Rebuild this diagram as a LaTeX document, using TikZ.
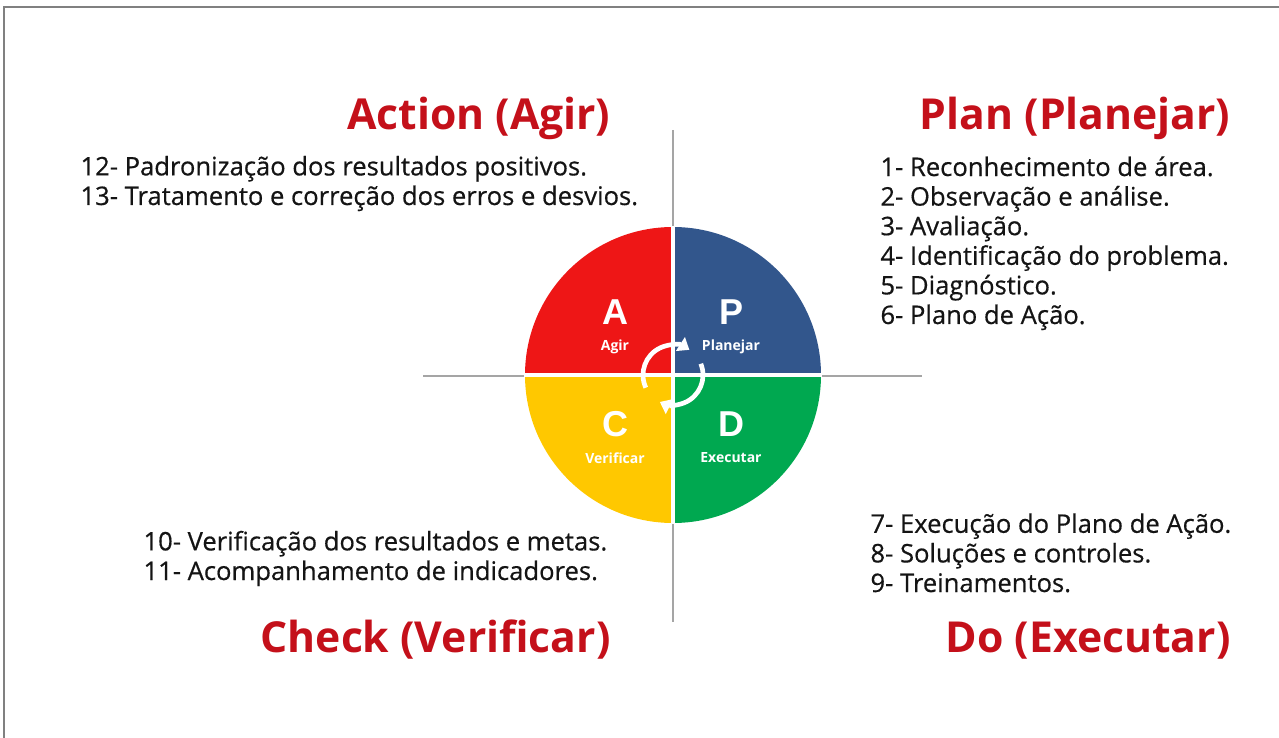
\documentclass[tikz,border=0pt]{standalone}
\usepackage{fontspec}
\setmainfont{Open Sans}
\newfontfamily\bodyfont{Open Sans}[FakeBold=0.5]
\newfontfamily\letterfont{Liberation Sans}
\usetikzlibrary{arrows.meta}

\definecolor{headred}{RGB}{196,16,26}
\definecolor{agirred}{RGB}{238,22,22}
\definecolor{planblue}{RGB}{50,86,140}
\definecolor{checkyellow}{RGB}{255,200,0}
\definecolor{dogreen}{RGB}{0,168,80}
\definecolor{axisgray}{RGB}{165,165,165}
\definecolor{framegray}{RGB}{128,128,128}
\definecolor{bodytext}{RGB}{20,20,20}

\tikzset{every picture/.style={line width=0.75pt}}
\tikzset{
  heading/.style={anchor=base east, inner sep=0pt, text=headred,
    font=\bfseries\fontsize{32}{38}\selectfont},
  % base anchor sits on the last line
  steplist/.style={anchor=base west, inner sep=0pt, align=left, text=bodytext,
    font=\bodyfont\fontsize{19.2}{22.2}\selectfont},
  bigletter/.style={text=white, inner sep=0pt, font=\letterfont\bfseries\fontsize{27}{30}\selectfont},
  smallword/.style={text=white, inner sep=0pt, font=\bfseries\fontsize{10.5}{12}\selectfont},
  cyclearrow/.style={white, line width=3.5pt, -{Triangle[length=8pt,width=12pt]}}
}

\begin{document}
\begin{tikzpicture}[x=0.75pt,y=0.75pt,yscale=-1,xscale=1]
	\useasboundingbox (0,0) rectangle (1279,738);

	%Frame
	\draw [framegray, line width=1.5pt] (4,738) -- (4,7) -- (1279,7) ;

	%Axes
	\coordinate (ctr) at (673,375);
	\coordinate (axL) at (423,376);
	\coordinate (axR) at (922,376);
	\coordinate (axT) at (673,130);
	\coordinate (axB) at (673,622);
	\draw [axisgray, line width=1.1pt] (axL) -- (axR) ;
	\draw [axisgray, line width=1.1pt] (axT) -- (axB) ;

	%Pie quadrants
	\fill [agirred] (ctr) -- ++(-148,0) arc (180:270:148) -- cycle ;
	\fill [planblue] (ctr) -- ++(0,-148) arc (270:360:148) -- cycle ;
	\fill [dogreen] (ctr) -- ++(148,0) arc (0:90:148) -- cycle ;
	\fill [checkyellow] (ctr) -- ++(0,148) arc (90:180:148) -- cycle ;
	\draw [white, line width=3pt] (673,226) -- (673,524) ;
	\draw [white, line width=3pt] (524,375) -- (822,375) ;

	%Cycle arrows
	\draw [cyclearrow] (ctr) ++(155:30) arc (155:303:30) ;
	\draw [cyclearrow] (ctr) ++(338:30) arc (338:476:30) ;

	% Quadrant letters
	\node [bigletter] (la) at (615,312) {A};
	\node [smallword] (wa) at (615,347) {Agir};
	\node [bigletter] (lp) at (731,312) {P};
	\node [smallword] (wp) at (731,347) {Planejar};
	\node [bigletter] (lc) at (615,424) {C};
	\node [smallword] (wc) at (615,458) {Verificar};
	\node [bigletter] (ld) at (731,424) {D};
	\node [smallword] (wd) at (731,458) {Executar};

	% Headings
	\node [heading] (act) at (611,130) {Action (Agir)};
	\node [heading] (plan) at (1231,130) {Plan (Planejar)};
	\node [heading] (chk) at (611,652) {Check (Verificar)};
	\node [heading] (do) at (1231,652) {Do (Executar)};

	% Lists
	\node [steplist] (actlist) at (80,205) {12- Padronização dos resultados positivos.\\13- Tratamento e correção dos erros e desvios.};
	\node [steplist] (planlist) at (880,324) {1- Reconhecimento de área.\\2- Observação e análise.\\3- Avaliação.\\4- Identificação do problema.\\5- Diagnóstico.\\6- Plano de Ação.};
	\node [steplist] (chklist) at (143,580) {10- Verificação dos resultados e metas.\\11- Acompanhamento de indicadores.};
	\node [steplist] (dolist) at (870,592) {7- Execução do Plano de Ação.\\8- Soluções e controles.\\9- Treinamentos.};

\end{tikzpicture}
\end{document}
